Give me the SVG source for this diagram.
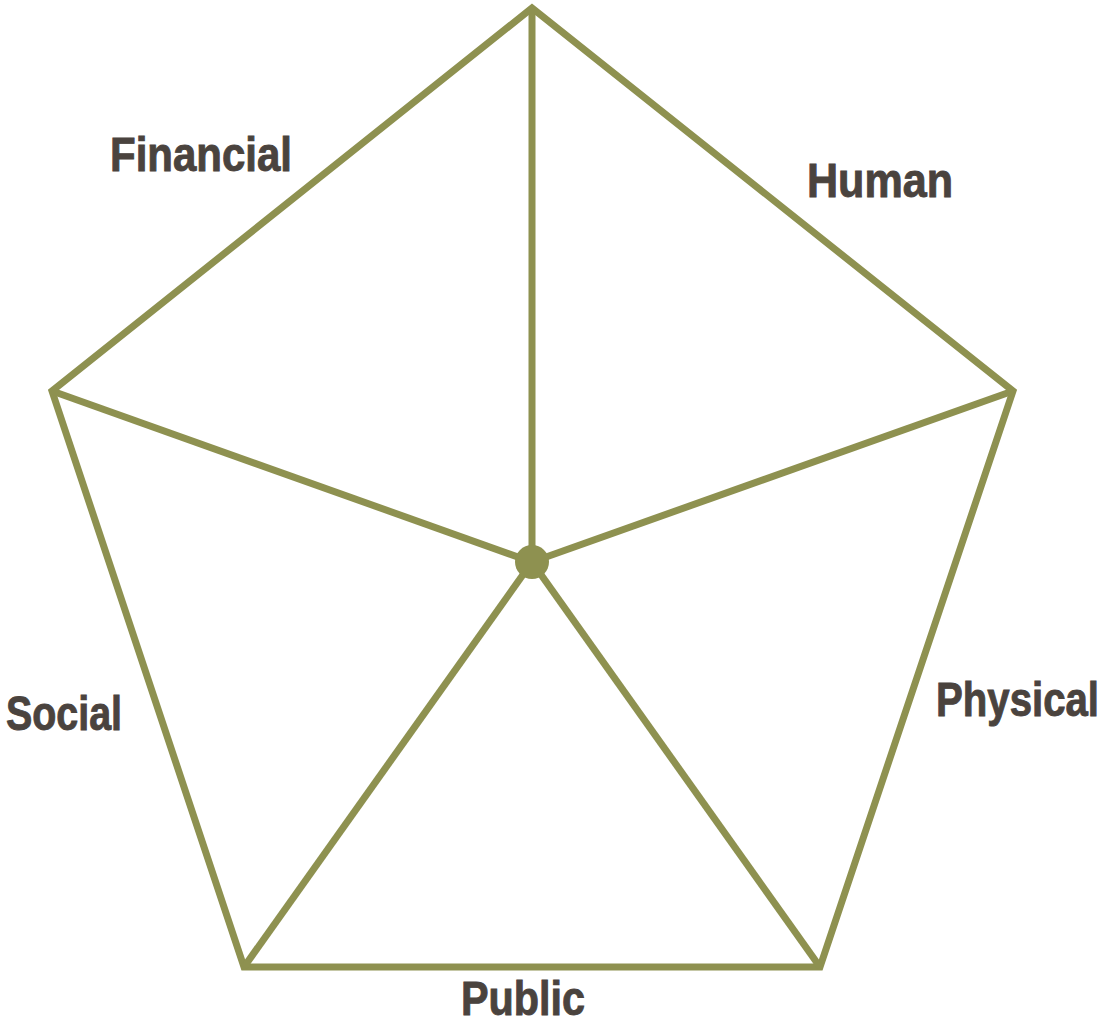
<svg xmlns="http://www.w3.org/2000/svg" width="1105" height="1023" viewBox="0 0 1105 1023">
  <style>
    .edge { stroke: #8e9150; stroke-width: 7; fill: none; stroke-linejoin: miter; stroke-linecap: butt; }
    .label { font-family: "Liberation Sans", Arial, sans-serif; font-weight: bold; font-size: 41px; fill: #4a433e; stroke: #4a433e; stroke-width: 0.8; }
  </style>
  <rect width="1105" height="1023" fill="#ffffff"/>
  <g id="connectors">
    <polygon class="edge" points="532,8 1013,391 820,967 244,967 52,391"/>
    <line class="edge" x1="532" y1="562" x2="532" y2="8"/>
    <line class="edge" x1="532" y1="562" x2="1013" y2="391"/>
    <line class="edge" x1="532" y1="562" x2="820" y2="967"/>
    <line class="edge" x1="532" y1="562" x2="244" y2="967"/>
    <line class="edge" x1="532" y1="562" x2="52" y2="391"/>
  </g>
  <g id="hub">
    <circle cx="532" cy="562" r="17" fill="#8e9150"/>
  </g>
  <!-- labels: condensed look via a slight vertical stretch -->
  <g id="financial" transform="translate(110,171) scale(1,1.15)"><text class="label" x="0" y="0" textLength="182" lengthAdjust="spacingAndGlyphs">Financial</text></g>
  <g id="human" transform="translate(807,197) scale(1,1.15)"><text class="label" x="0" y="0" textLength="146" lengthAdjust="spacingAndGlyphs">Human</text></g>
  <g id="social" transform="translate(6,730) scale(1,1.15)"><text class="label" x="0" y="0" textLength="116" lengthAdjust="spacingAndGlyphs">Social</text></g>
  <g id="physical" transform="translate(936,716) scale(1,1.15)"><text class="label" x="0" y="0" textLength="163" lengthAdjust="spacingAndGlyphs">Physical</text></g>
  <g id="public" transform="translate(461,1015) scale(1,1.15)"><text class="label" x="0" y="0" textLength="124" lengthAdjust="spacingAndGlyphs">Public</text></g>
</svg>
